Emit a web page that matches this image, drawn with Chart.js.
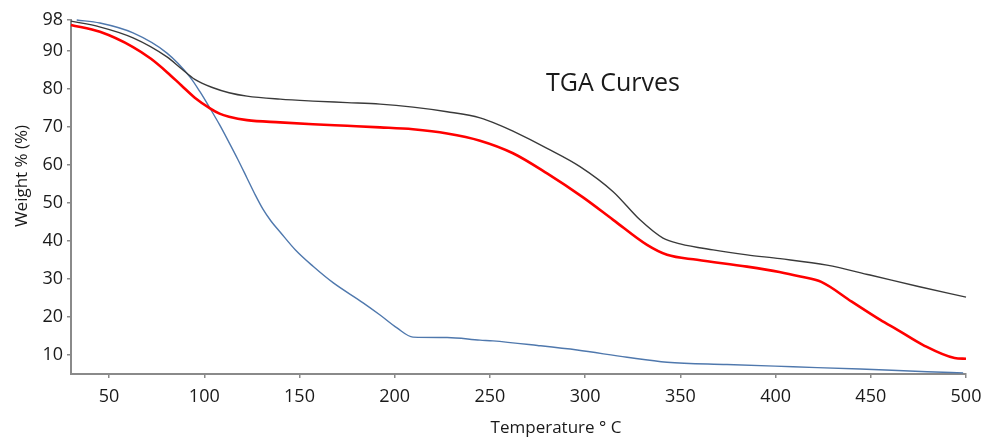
<!DOCTYPE html>
<html>
<head>
<meta charset="utf-8">
<title>TGA Curves</title>
<script src="https://cdn.jsdelivr.net/npm/chart.js@4.4.1/dist/chart.umd.min.js"></script>
<style>
  html, body { margin: 0; padding: 0; background: #fff; }
  #wrap { width: 992px; height: 442px; }
</style>
</head>
<body>
<div id="wrap"><canvas id="tgaChart"></canvas></div>
<script>
// tick labels
const xTicks = [50, 100, 150, 200, 250, 300, 350, 400, 450, 500];
const yTicks = [10, 20, 30, 40, 50, 60, 70, 80, 90, 98];

// black curve
const tempBlack = [30, 45, 62.6, 80.4, 88, 95, 104.6, 113, 122.4, 139.8, 157.1, 175, 192.3, 209.6, 227.5, 244.8, 255, 262.1, 280, 297.3, 314.7, 328.8, 340.9, 349.9, 367.2, 385, 402.4, 427, 449.6, 475, 500];
const weightBlack = [97.7, 96.2, 93.3, 88.3, 85.2, 82.4, 80.2, 78.9, 78.0, 77.2, 76.7, 76.3, 75.9, 75.1, 73.9, 72.3, 70.4, 68.8, 64.3, 59.5, 52.9, 45.5, 40.7, 39.2, 37.6, 36.3, 35.3, 33.6, 31.0, 28.0, 25.2];

// red curve
const tempRed = [30, 45.2, 62.6, 72, 80.4, 88, 95, 103, 108, 113, 122.4, 139.8, 157.1, 175, 192.3, 209.6, 227.5, 244.8, 262.1, 280, 298.9, 314.7, 332.5, 343, 358.8, 385, 402, 413, 424, 440, 455, 464, 477.5, 494, 500];
const weightRed = [96.7, 94.9, 90.9, 87.8, 84.3, 80.8, 77.6, 74.8, 73.4, 72.6, 71.7, 71.1, 70.6, 70.2, 69.8, 69.3, 68.2, 66.3, 63.0, 57.7, 51.4, 45.5, 38.9, 36.3, 35.0, 33.2, 31.8, 30.6, 29.2, 24.0, 19.2, 16.6, 12.6, 9.2, 9.0];

// blue curve
const tempBlue = [33, 45.2, 62.6, 80.4, 92.5, 97.8, 103, 108, 112.5, 117.7, 122.4, 126.5, 130.8, 135, 139.8, 148, 157.1, 167.6, 183.4, 192.3, 201.2, 209.6, 227.5, 244.8, 251.6, 275, 295.8, 322, 343, 374.5, 409.2, 444.4, 479.6, 498.5];
const weightBlue = [98.0, 97.2, 94.6, 89.3, 83.0, 79.1, 74.8, 70.5, 66.3, 61.3, 56.5, 52.3, 48.3, 45.2, 42.3, 37.5, 33.3, 29.0, 23.7, 20.5, 17.1, 14.7, 14.6, 13.9, 13.7, 12.5, 11.3, 9.4, 8.1, 7.5, 6.9, 6.3, 5.6, 5.3];

function toPoints(xs, ys) {
  return xs.map((x, i) => ({ x: x, y: ys[i] }));
}

Chart.defaults.font.family = '"Open Sans", "DejaVu Sans", sans-serif';
Chart.defaults.color = '#1a1a1a';

// titles drawn on the canvas
const textLabels = {
  id: 'textLabels',
  afterDraw(chart) {
    const ctx = chart.ctx;
    ctx.save();
    ctx.fillStyle = '#1a1a1a';
    ctx.textAlign = 'center';
    ctx.textBaseline = 'middle';
    ctx.font = '25px "Open Sans"';
    ctx.fillText('TGA Curves', 613, 84);
    ctx.font = '17px "Open Sans"';
    ctx.fillText('Temperature \u00b0 C', 556, 428);
    ctx.translate(22, 176);
    ctx.rotate(-Math.PI / 2);
    ctx.fillText('Weight % (%)', 0, 0);
    ctx.restore();
  }
};

const axisGray = '#8a8a8a';

new Chart(document.getElementById('tgaChart'), {
  type: 'scatter',
  data: {
    datasets: [
      {
        label: 'Sample A',
        data: toPoints(tempBlack, weightBlack),
        borderColor: '#3a3a3a',
        borderWidth: 1.4
      },
      {
        label: 'Sample B',
        data: toPoints(tempRed, weightRed),
        borderColor: '#ff0000',
        borderWidth: 2.6
      },
      {
        label: 'Sample C',
        data: toPoints(tempBlue, weightBlue),
        borderColor: '#4f78ad',
        borderWidth: 1.4
      }
    ]
  },
  options: {
    responsive: true,
    maintainAspectRatio: false,
    animation: false,
    showLine: true,
    clip: false,
    elements: {
      point: { radius: 0, hoverRadius: 0 },
      line: { cubicInterpolationMode: 'monotone', fill: false }
    },
    layout: { padding: { left: 0, right: 26, top: 20, bottom: 0 } },
    plugins: {
      legend: { display: false },
      tooltip: { enabled: false }
    },
    scales: {
      x: {
        type: 'linear',
        min: 30,
        max: 500,
        afterBuildTicks: (scale) => { scale.ticks = xTicks.map(v => ({ value: v })); },
        afterFit: (scale) => { scale.height = 68; },
        ticks: { font: { size: 18 }, padding: 8, maxRotation: 0, autoSkip: false },
        grid: { display: true, drawOnChartArea: false, drawTicks: true, tickLength: 4, color: axisGray, lineWidth: 1.5 },
        border: { display: true, color: axisGray, width: 2 }
      },
      y: {
        type: 'linear',
        min: 5,
        max: 98,
        afterBuildTicks: (scale) => { scale.ticks = yTicks.map(v => ({ value: v })); },
        afterFit: (scale) => { scale.width = 71; },
        ticks: { font: { size: 18 }, padding: 4, autoSkip: false },
        grid: { display: true, drawOnChartArea: false, drawTicks: true, tickLength: 4, color: axisGray, lineWidth: 1.5 },
        border: { display: true, color: axisGray, width: 2 }
      }
    }
  },
  plugins: [textLabels]
});
</script>
</body>
</html>
